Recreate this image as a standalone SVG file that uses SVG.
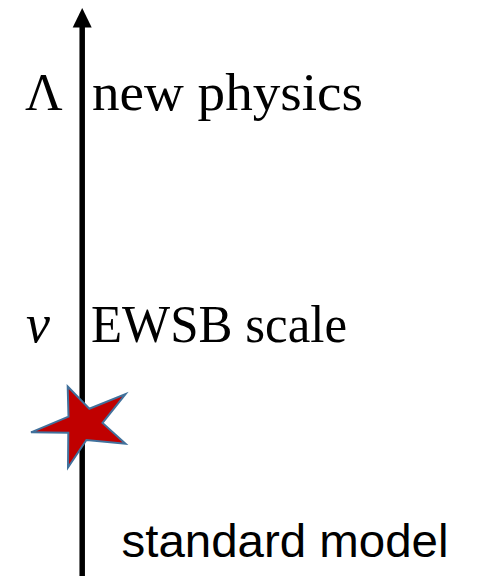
<svg xmlns="http://www.w3.org/2000/svg" width="477" height="576" viewBox="0 0 477 576">
<style>
.serif{font-family:"Liberation Serif","Times New Roman",serif;fill:#000}
.sans{font-family:"Liberation Sans",Arial,sans-serif;fill:#000}
.axis{stroke:#000;stroke-width:5.5;fill:none}
.star{fill:#C00000;stroke:#41719C;stroke-width:2;stroke-linejoin:miter}
</style>
<rect width="477" height="576" fill="#fff"/>
<g id="connectors">
<line class="axis" x1="82.2" y1="26" x2="82.2" y2="576"/>
<polygon points="82.2,8 91.7,27.5 72.7,27.5" fill="#000"/>
</g>
<g id="lambda"><text class="serif" x="25" y="110" font-size="52">Λ</text></g>
<g id="new-physics"><text class="serif" x="92" y="110" font-size="52" textLength="271" lengthAdjust="spacingAndGlyphs">new physics</text></g>
<g id="v"><text class="serif" x="26" y="341.7" font-size="54" font-style="italic">v</text></g>
<g id="ewsb"><text class="serif" x="91" y="341.7" font-size="53" textLength="256" lengthAdjust="spacingAndGlyphs">EWSB scale</text></g>
<g id="star"><polygon class="star" points="67.7,386.5 89.3,408.8 125.5,394 102.5,423 125.5,443.8 86.4,440 68,467.5 68.3,432.7 31,432.3 68.5,416.7"/></g>
<g id="standard-model"><text class="sans" x="121.5" y="557" font-size="47" textLength="327" lengthAdjust="spacingAndGlyphs">standard model</text></g>
</svg>
